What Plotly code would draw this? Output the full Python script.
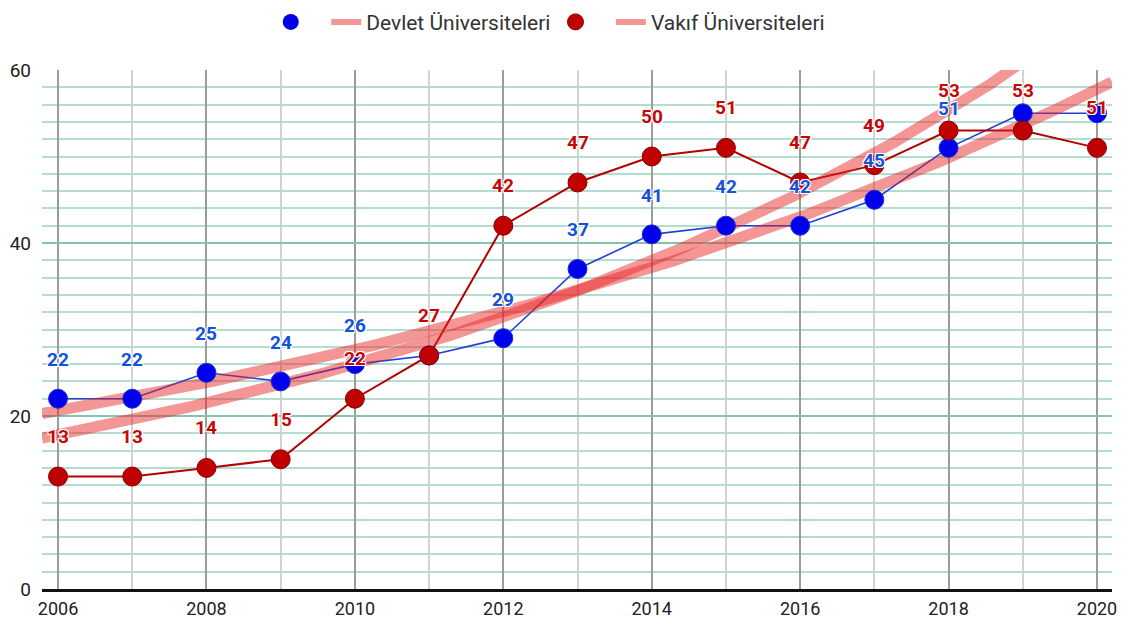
import numpy as np
import plotly.graph_objects as go

# ---- data ----
years = list(range(2006, 2021))
devlet = [22, 22, 25, 24, 26, 27, 29, 37, 41, 42, 42, 45, 51, 55, 55]
vakif = [13, 13, 14, 15, 22, 27, 42, 47, 50, 51, 47, 49, 53, 53, 51]
devlet_name = "Devlet Üniversiteleri"
vakif_name = "Vakıf Üniversiteleri"
devlet_hidden_label_years = [2011, 2019, 2020]
vakif_hidden_label_years = []
x_tick_vals = [2006, 2008, 2010, 2012, 2014, 2016, 2018, 2020]
y_tick_vals = [0, 20, 40, 60]

# ---- style ----
BLUE_MK = "#0000ea"
BLUE_LN = "#1c3fd6"
BLUE_TX = "#1452dc"
RED_MK = "#c00000"
RED_LN = "#b40000"
RED_TX = "#c40808"
TREND = "rgba(235,35,35,0.48)"
FONT = "Roboto"
x_range = [2005.784, 2020.202]
y_range = [0, 60]


def exp_trend(xs, ys, xgrid):
    x0 = xs[0]
    x = np.array(xs, float) - x0
    y = np.array(ys, float)
    b, lna = np.polyfit(x, np.log(y), 1, w=np.sqrt(y))
    return np.exp(lna) * np.exp(b * (xgrid - x0))


xgrid = np.linspace(x_range[0], x_range[1], 300)
devlet_trend = exp_trend(years, devlet, xgrid)
vakif_trend = exp_trend(years, vakif, xgrid)

fig = go.Figure()

# series lines
fig.add_trace(go.Scatter(x=years, y=devlet, mode="lines",
                         line=dict(color=BLUE_LN, width=1.6), showlegend=False, hoverinfo="skip"))
fig.add_trace(go.Scatter(x=years, y=vakif, mode="lines",
                         line=dict(color=RED_LN, width=2), showlegend=False, hoverinfo="skip"))
# trendlines
fig.add_trace(go.Scatter(x=xgrid, y=devlet_trend, mode="lines",
                         line=dict(color=TREND, width=11), showlegend=False, hoverinfo="skip"))
fig.add_trace(go.Scatter(x=xgrid, y=vakif_trend, mode="lines",
                         line=dict(color=TREND, width=11), showlegend=False, hoverinfo="skip"))
# markers
fig.add_trace(go.Scatter(x=years, y=devlet, mode="markers", name=devlet_name,
                         marker=dict(color=BLUE_MK, size=19, line=dict(color="#1a2fd0", width=1)),
                         showlegend=False))
fig.add_trace(go.Scatter(x=years, y=vakif, mode="markers", name=vakif_name,
                         marker=dict(color=RED_MK, size=19, line=dict(color="#8a0000", width=1)),
                         showlegend=False))

# legend-only entries
fig.add_trace(go.Scatter(x=[None], y=[None], mode="markers", name="\u00a0\u00a0",
                         marker=dict(color=BLUE_MK, size=16)))
fig.add_trace(go.Scatter(x=[None], y=[None], mode="lines", name=devlet_name,
                         line=dict(color=TREND, width=6)))
fig.add_trace(go.Scatter(x=[None], y=[None], mode="markers", name="\u00a0\u00a0",
                         marker=dict(color=RED_MK, size=16, line=dict(color="#8a0000", width=1))))
fig.add_trace(go.Scatter(x=[None], y=[None], mode="lines", name=vakif_name,
                         line=dict(color=TREND, width=6)))

halo = "1px 1px 0 #fff, -1px -1px 0 #fff, 1px -1px 0 #fff, -1px 1px 0 #fff, 0 1px 0 #fff, 0 -1px 0 #fff"
annotations = []
for yr, v in zip(years, devlet):
    if yr in devlet_hidden_label_years:
        continue
    annotations.append(dict(x=yr, y=v, text=str(v), showarrow=False, yshift=39,
                            font=dict(family=FONT, size=19, color=BLUE_TX, weight="bold", shadow=halo)))
for yr, v in zip(years, vakif):
    if yr in vakif_hidden_label_years:
        continue
    annotations.append(dict(x=yr, y=v, text=str(v), showarrow=False, yshift=40,
                            font=dict(family=FONT, size=19, color=RED_TX, weight="bold", shadow=halo)))

fig.update_layout(
    width=1129, height=621,
    margin=dict(l=42, r=17, t=70, b=32, autoexpand=False),
    paper_bgcolor="white", plot_bgcolor="white",
    font=dict(family=FONT, color="#222"),
    annotations=annotations,
    legend=dict(orientation="h", x=0.475, xanchor="center", y=1.092, yanchor="middle",
                font=dict(family=FONT, size=21, color="#333"), bgcolor="rgba(0,0,0,0)"),
    hovermode=False,
)
fig.update_xaxes(
    range=x_range, tickvals=x_tick_vals, ticktext=[str(t) for t in x_tick_vals],
    showgrid=True, gridcolor="#9c9c9c", gridwidth=2,
    minor=dict(dtick=1, tick0=2006, showgrid=True, gridcolor="#d2d2d2", gridwidth=1.5),
    showline=True, linecolor="#111", linewidth=2.5, ticks="", zeroline=False,
    tickfont=dict(family=FONT, size=18, color="#222"), ticklabelstandoff=2, automargin=False,
)
fig.update_yaxes(
    range=y_range, tickvals=y_tick_vals,
    showgrid=True, gridcolor="#82c4ad", gridwidth=2,
    minor=dict(dtick=2, tick0=0, showgrid=True, gridcolor="#b3ddd0", gridwidth=1.5),
    zeroline=False, ticks="", showline=False,
    tickfont=dict(family=FONT, size=19, color="#222"), ticklabelstandoff=10, automargin=False,
)

fig.write_html("out.html", config={"displayModeBar": False},
               post_script="document.body.style.margin='0';document.body.style.overflow='hidden';")
